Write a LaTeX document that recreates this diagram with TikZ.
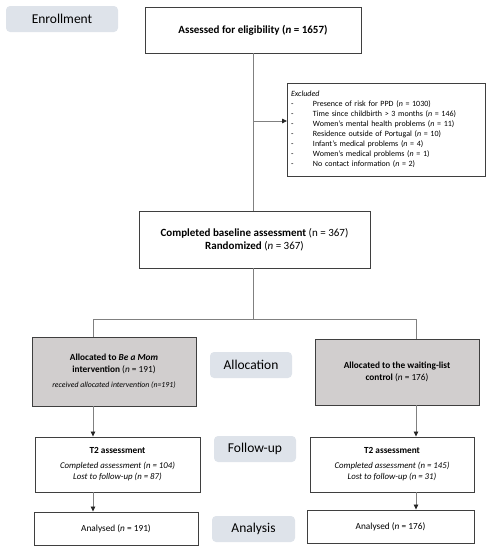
\documentclass[tikz,border=0pt]{standalone}
\usepackage{fontspec}
\setmainfont{Carlito}
\usetikzlibrary{arrows.meta}

\definecolor{phasefill}{HTML}{DEE3EA}
\definecolor{allocfill}{HTML}{D1CECE}
\definecolor{boxline}{HTML}{3F3F3F}
\definecolor{linkline}{HTML}{808080}

\tikzset{
  box/.style={draw=boxline, line width=0.9pt, align=center, inner sep=3pt},
  allocbox/.style={box, fill=allocfill},
  phase/.style={rounded corners=4pt, fill=phasefill, minimum height=26pt,
    font=\fontsize{13.5}{15}\selectfont},
  link/.style={draw=linkline, line width=0.8pt},
  arr/.style={link, -{Triangle[length=5pt, width=4.5pt, color=black!85]}}
}
\newcommand{\exitem}[1]{\\\makebox[22pt][l]{-}#1}
\newcommand{\smallit}{\fontsize{8.8}{11}\selectfont\itshape}
\newcommand{\bigbox}{\fontsize{11}{13.5}\selectfont}

\begin{document}
\begin{tikzpicture}[x=1pt, y=-1pt, font=\fontsize{9.3}{11.5}\selectfont]
\useasboundingbox (0,0) rectangle (491,550);

%% phase labels (the grey-blue tabs)
\foreach \name/\txt/\x/\y/\w in {enroll/Enrollment/62/19/112, alloc/Allocation/251/365/82,
    follow/Follow-up/255/449/82, analysis/Analysis/253.5/529/83}
  {
  \node[phase, minimum width=\w pt] (\name) at (\x,\y) {\txt};
  }

%% enrollment
\node[box, minimum width=216pt, minimum height=46pt, font=\bigbox] (assess) at (253,30)
  {\textbf{Assessed for eligibility (\textit{n} = 1657)}};
\node[box, text width=190pt, align=left, minimum height=93pt, inner sep=4pt,
  font=\fontsize{8}{10}\selectfont] (excl) at (386,129.5)
  {\textit{Excluded}
   \exitem{Presence of risk for PPD (\textit{n} = 1030)}
   \exitem{Time since childbirth > 3 months (\textit{n} = 146)}
   \exitem{Women's mental health problems (\textit{n} = 11)}
   \exitem{Residence outside of Portugal (\textit{n} = 10)}
   \exitem{Infant's medical problems (\textit{n} = 4)}
   \exitem{Women's medical problems (\textit{n} = 1)}
   \exitem{No contact information (\textit{n} = 2)}};
\node[box, minimum width=231pt, minimum height=57pt, font=\bigbox] (base) at (254.5,239.5)
  {\textbf{Completed baseline assessment} (n = 367)\\
   \textbf{Randomized} (\textit{n} = 367)};

%% allocation
\node[allocbox, minimum width=164pt, minimum height=69pt] (allocA) at (114,371.5)
  {\textbf{Allocated to \textit{Be a Mom}}\\
   \textbf{intervention} (\textit{n} = 191)\\[4pt]
   \fontsize{7.8}{9}\selectfont\itshape received allocated intervention (n=191)};
\node[allocbox, minimum width=164pt, minimum height=66pt] (allocB) at (397,372)
  {\textbf{Allocated to the waiting-list}\\
   \textbf{control} (\textit{n} = 176)};

%% follow-up
\node[box, minimum width=165pt, minimum height=55pt] (t2A) at (117.5,464.5)
  {\textbf{T2 assessment}\\[3pt]
   \smallit Completed assessment (n = 104)\\
   \smallit Lost to follow-up (n = 87)};
\node[box, minimum width=164pt, minimum height=55pt] (t2B) at (392,464.5)
  {\textbf{T2 assessment}\\[3pt]
   \smallit Completed assessment (n = 145)\\
   \smallit Lost to follow-up (n = 31)};

%% analysis
\node[box, minimum width=164pt, minimum height=33pt] (anA) at (116,528.5)
  {Analysed (\textit{n} = 191)};
\node[box, minimum width=167pt, minimum height=33pt] (anB) at (390.5,526.5)
  {Analysed (\textit{n} = 176)};

%% connectors
\coordinate (trunk) at (253,0);
\coordinate (exclin) at (287,121);
\coordinate (armA) at (93,319);
\coordinate (armB) at (416,319);

\draw[link] (assess.south -| trunk) -- (base.north -| trunk);
\draw[arr] (exclin -| trunk) -- (exclin);
\draw[link] (base.south -| trunk) -- (armA -| trunk);
\draw[link] (allocA.north -| armA) -- (armA) -- (armB) -- (allocB.north -| armB);

\draw[arr] (allocA.south -| armA) -- (t2A.north -| armA);
\draw[arr] (allocB.south -| armB) -- (t2B.north -| armB);
\draw[arr] (t2A.south -| armA) -- (anA.north -| armA);
\draw[arr] (t2B.south -| armB) -- (anB.north -| armB);

\end{tikzpicture}
\end{document}
